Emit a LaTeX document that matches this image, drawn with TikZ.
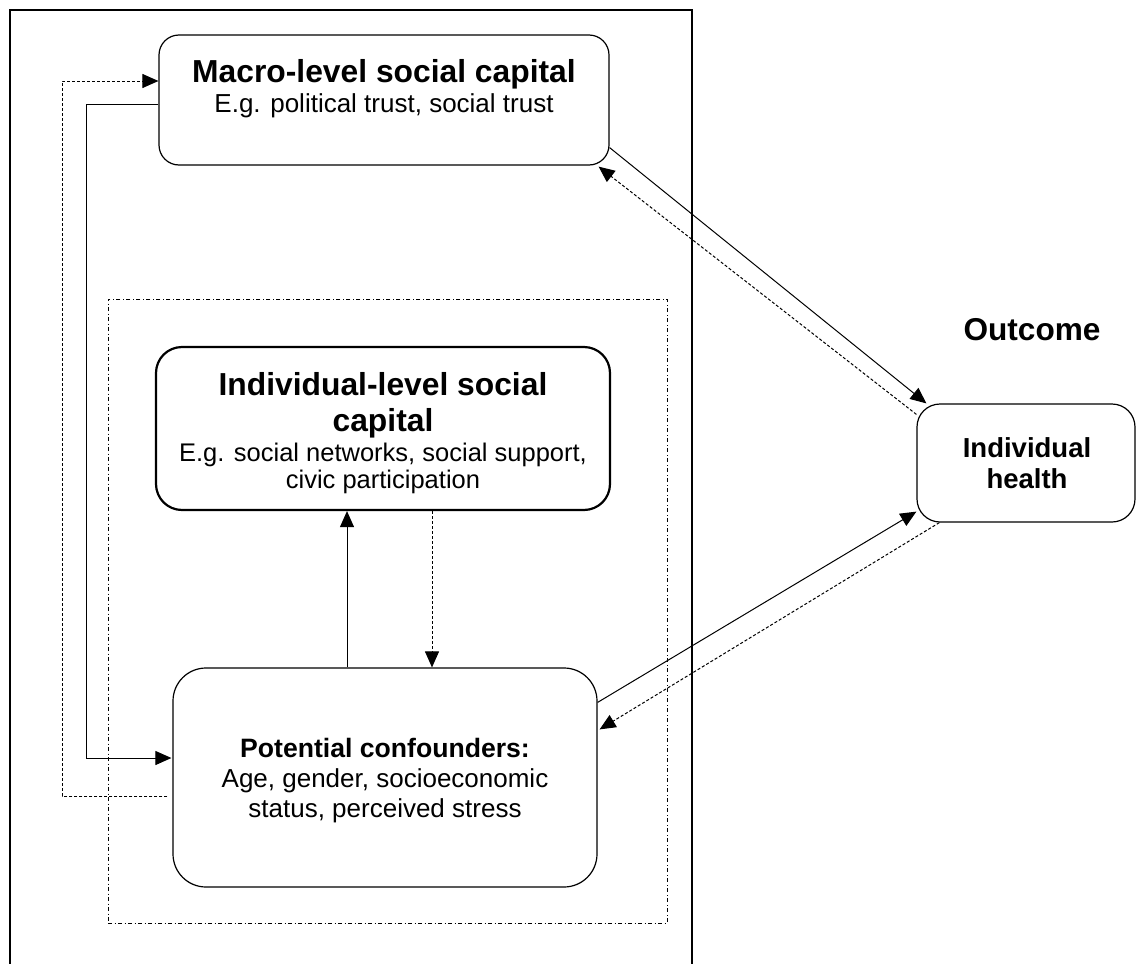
\documentclass[tikz,border=0pt]{standalone}
\usepackage{fontspec}
\setmainfont{Liberation Sans}
\usetikzlibrary{arrows.meta}
\begin{document}
\begin{tikzpicture}[x=1pt,y=-1pt,
  box/.style={draw, line width=1.2pt, rounded corners=#1, inner sep=0pt},
  ttl/.style={font=\fontsize{31.8}{36}\selectfont\bfseries, inner sep=0pt, anchor=base},
  sub/.style={font=\fontsize{26}{30}\selectfont, inner sep=0pt, anchor=base},
  isub/.style={font=\fontsize{25.5}{30}\selectfont, inner sep=0pt, anchor=base},
  btxt/.style={font=\fontsize{26.6}{30}\selectfont\bfseries, inner sep=0pt, anchor=base},
  conn/.style={line width=1pt},
  dconn/.style={line width=1pt, dash pattern=on 3pt off 2pt},
  tip/.style={-{Triangle[length=16pt,width=14pt]}},
  grpstyle/.style={draw, line width=1pt, dash pattern=on 4pt off 2.5pt on 1pt off 2.5pt, inner sep=0pt},
  outerstyle/.style={draw, line width=2.4pt, inner sep=0pt}
]
\useasboundingbox (0,0) rectangle (1136,964);
\clip (0,0) rectangle (1136,964);
\fill[white] (0,0) rectangle (1136,964);

% frames
\node[outerstyle, minimum width=682pt, minimum height=1000pt] (outer) at (351,510) {};
\node[grpstyle, minimum width=559pt, minimum height=624pt] (grp) at (387.5,611) {};

% boxes
\node[box=20pt, minimum width=450pt, minimum height=130pt] (macro) at (384,100) {};
\node[box=26pt, line width=2.2pt, minimum width=454pt, minimum height=163pt] (indiv) at (383,428.5) {};
\node[box=33pt, minimum width=424pt, minimum height=219pt] (conf) at (385,777.5) {};
\node[box=23pt, minimum width=218pt, minimum height=118pt] (health) at (1026,463) {};

% texts
\node[ttl] (mt) at (384,82) {Macro-level social capital};
\node[sub] (ms) at (384,112) {E.g. political trust, social trust};

\node[ttl] (it1) at (383,395) {Individual-level social};
\node[ttl] (it2) at (383,431) {capital};
\node[isub] (is1) at (383,461) {E.g. social networks, social support,};
\node[isub] (is2) at (383,488) {civic participation};

\node[btxt] (ct) at (385,757) {Potential confounders:};
\node[sub] (cs1) at (385,787) {Age, gender, socioeconomic};
\node[sub] (cs2) at (385,817) {status, perceived stress};

\node[font=\fontsize{27.5}{30}\selectfont\bfseries, inner sep=0pt, anchor=base] (ht1) at (1027,457) {Individual};
\node[font=\fontsize{27.5}{30}\selectfont\bfseries, inner sep=0pt, anchor=base] (ht2) at (1027,488) {health};

\node[font=\fontsize{31.6}{36}\selectfont\bfseries, inner sep=0pt, anchor=base] (outcome) at (1032,340) {Outcome};

% connectors: macro <-> health
\draw[conn, tip] ([yshift=18pt]macro.south east) -- ([xshift=10pt]health.north west);
\draw[dconn, tip] ([yshift=-11pt]health.north west) -- ([xshift=-11pt,yshift=-1pt]macro.south east);

% confounders <-> health
\draw[conn, tip] ([yshift=-35pt]conf.north east) -- ([yshift=11pt]health.south west);
\draw[dconn, tip] ([xshift=23pt]health.south west) -- ([xshift=2pt,yshift=-62pt]conf.north east);

% confounders <-> individual
\draw[conn, tip] ([xshift=-38pt]conf.north) -- ([xshift=-36pt]indiv.south);
\draw[dconn, tip] ([xshift=49pt]indiv.south) -- ([xshift=47pt]conf.north);

% left loops
\draw[conn, tip] ([yshift=-4pt]macro.west) -- ++(-72pt,0) |- ([xshift=-1pt,yshift=19.5pt]conf.west);
\draw[dconn, tip] ([xshift=-5pt,yshift=-18.5pt]conf.west) -- ++(-105pt,0) |- ([yshift=19pt]macro.west);
\end{tikzpicture}
\end{document}
